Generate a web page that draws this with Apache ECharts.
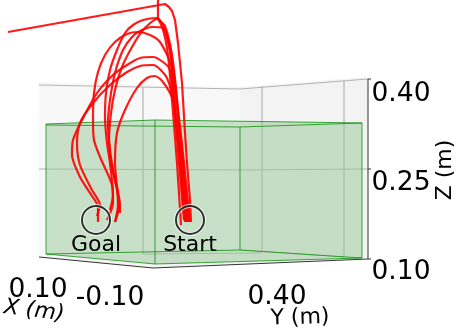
<!DOCTYPE html>
<html><head><meta charset="utf-8">
<style>html,body{margin:0;padding:0;background:#fff}#c{width:459px;height:328px}</style>
<script src="https://cdn.jsdelivr.net/npm/echarts@6/dist/echarts.min.js"></script>
</head><body><div id="c"></div>
<script>
// All coordinates are in the picture's projected plane (the 3D view flattened).
const traj0 = [[8,32],[165,4],[169,7],[172,11],[175,20],[178,43],[180,63],[182,83],[185,133],[187,163],[190,200],[191,222]];
const traj1 = [[158,0],[158,18],[165,26],[172,55],[177,100],[181,163],[186,222]];
const traj2 = [[184,220],[179,163],[174,100],[171,57],[166,33],[157,18],[143,20],[133,25],[125,33],[117,50],[110,70],[106,93],[105,117],[107,143],[110,163],[113,195],[110,210]];
const traj3 = [[188,222],[183,163],[176,100],[171,65],[160,42],[150,35],[138,32],[127,34],[115,42],[105,55],[98,72],[94,93],[93,120],[94,140],[100,157],[112,185],[113,203],[107,220]];
const traj4 = [[181,225],[177,163],[172,100],[168,55],[163,30],[157,19],[143,30],[132,47],[122,67],[115,90],[111,113],[109,140],[111,163],[117,190],[118,205],[115,222]];
const traj5 = [[190,222],[184,163],[177,100],[172,62],[163,28],[152,27],[140,31],[132,37],[123,50],[115,73],[110,100],[108,123],[110,150],[114,175],[120,205],[120,213]];
const traj6 = [[185,222],[180,163],[175,110],[170,70],[163,62],[153,57],[140,58],[127,65],[113,75],[97,93],[82,120],[73,140],[72,155],[80,177],[90,193],[98,207],[98,222]];
const traj7 = [[187,222],[181,163],[175,110],[167,78],[153,65],[140,66],[127,72],[110,85],[93,103],[80,123],[77,143],[80,165],[92,190],[100,205],[97,216]];
const traj8 = [[189,222],[182,163],[176,125],[173,100],[163,82],[155,76],[147,78],[137,88],[125,110],[117,133],[115,163],[116,177],[119,207],[115,222]];
const trajectories = [traj0,traj1,traj2,traj3,traj4,traj5,traj6,traj7,traj8];

const paneLeft = [[39,82],[240,87],[240,250],[39,257]];
const paneRight = [[240,87],[368,77],[368,259],[240,250]];
const paneFloor = [[39,257],[153,268],[368,259],[240,250]];
const gridLines = [
  [[39,85],[240,89],[368,79]],
  [[39,169],[240,170],[368,169]],
  [[143,87],[143,254]],
  [[262,86],[262,252]],
  [[344,80],[344,257]],
  [[143,254],[262,253]],
  [[240,250],[344,257]]
];
const boxFill = [[46,124],[155,120],[362,123],[362,258],[155,264],[46,254]];
const boxEdges = [
  [[46,124],[155,120],[362,123],[362,258],[155,264],[46,254],[46,124]],
  [[46,125],[240,127],[362,123]],
  [[46,254],[240,250],[362,258]],
  [[155,120],[155,264]],
  [[240,127],[240,250]]
];
const axisLines = [
  [[39,257],[153,268],[368,259],[368,79]],
  [[368,79],[371,79]],[[368,169],[371,169]],[[368,259],[371,259]]
];
const markers = [[96,220],[190,220]];

const texts = [
  {t:'Goal',x:96,y:245,s:22},
  {t:'Start',x:190,y:245,s:22},
  {t:'0.40',x:401,y:94,s:26.5},
  {t:'0.25',x:401,y:183,s:26.5},
  {t:'0.10',x:401,y:272,s:26.5},
  {t:'0.10',x:38,y:290,s:26.5},
  {t:'-0.10',x:110,y:298,s:26.5},
  {t:'0.40',x:277,y:297,s:26.5},
  {t:'Z (m)',x:445,y:170,s:22,r:Math.PI/2},
  {t:'X (m)',x:34,y:311,s:22,r:-0.12,i:true},
  {t:'Y (m)',x:300,y:318,s:22,r:0.03}
];

function poly(pts,fill,z){
  return {type:'custom',coordinateSystem:'cartesian2d',silent:true,z:z,data:[0],clip:false,
    renderItem:(p,api)=>({type:'polygon',shape:{points:pts.map(q=>api.coord(q))},style:{fill:fill,stroke:'none'}})};
}
function line(pts,color,width,z){
  return {type:'line',data:pts,showSymbol:false,silent:true,z:z,animation:false,
    lineStyle:{color:color,width:width}};
}
const series = [
  poly(paneLeft,'#f8f8f8',1), poly(paneRight,'#f3f3f3',1), poly(paneFloor,'#f3f3f3',1),
  ...gridLines.map(g=>line(g,'#b4b4b4',1.2,2)),
  poly(boxFill,'rgba(150,200,150,0.5)',3),
  ...boxEdges.map(e=>line(e,'rgba(0,140,0,0.75)',1,4)),
  ...axisLines.map(a=>line(a,'#333',1,5)),
  ...trajectories.map((t,i)=>Object.assign(line(t,'rgba(255,0,0,0.9)',2.2,6),{smooth:i===0?false:0.25})),
  {type:'scatter',data:markers,symbolSize:28,silent:true,z:7,itemStyle:{color:'transparent',borderColor:'rgba(255,255,255,0.9)',borderWidth:4}},
  {type:'scatter',data:markers,symbolSize:28,silent:true,z:8,itemStyle:{color:'transparent',borderColor:'#000',borderWidth:2}}
];
const chart = echarts.init(document.getElementById('c'),null,{renderer:'canvas'});
chart.setOption({
  animation:false,
  grid:{left:0,right:0,top:0,bottom:0},
  xAxis:{type:'value',min:0,max:459,show:false},
  yAxis:{type:'value',min:0,max:328,inverse:true,show:false},
  series:series,
  graphic:texts.map(o=>({type:'text',x:o.x,y:o.y,rotation:o.r||0,z:20,silent:true,
    style:{text:o.t,fontFamily:'DejaVu Sans',fontSize:o.s,fontStyle:o.i?'italic':'normal',fill:'#000',align:'center',verticalAlign:'middle'}}))
});
</script></body></html>
